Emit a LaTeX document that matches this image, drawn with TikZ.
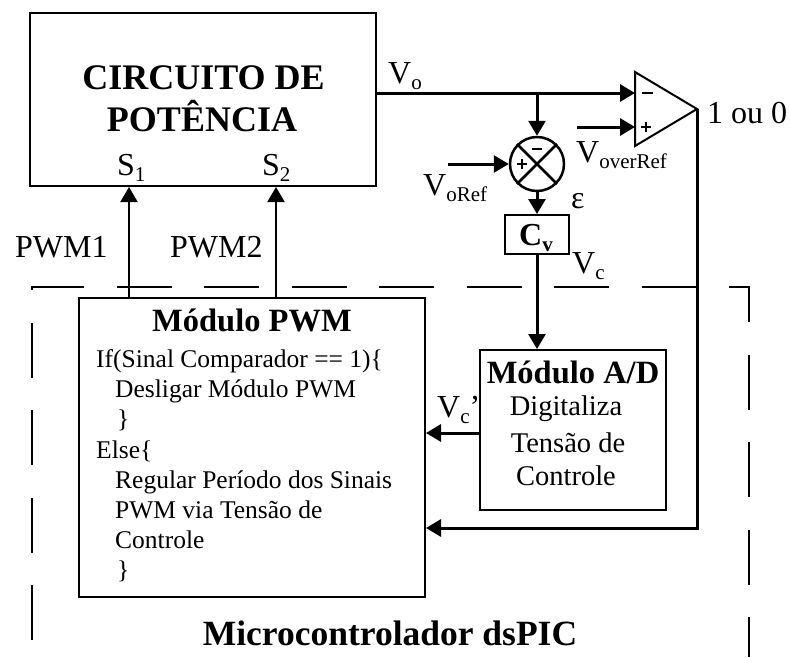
\documentclass[tikz,border=0pt]{standalone}
\usepackage{fontspec}
\setmainfont{Liberation Serif}
\usetikzlibrary{arrows.meta}
\newcommand\lsub[1]{\raisebox{-6pt}{\fontsize{21}{21}\selectfont #1}}
\begin{document}
\begin{tikzpicture}[x=1pt,y=-1pt,
 box/.style={draw, line width=2pt, inner sep=0pt},
 sig/.style={line width=3pt},
 thinsig/.style={line width=2pt},
 arr/.style={-{Triangle[width=17pt,length=15pt]}},
 lbl/.style={inner sep=0pt, anchor=base west, font=\fontsize{32}{38}\selectfont},
 code/.style={inner sep=0pt, anchor=base west, font=\fontsize{25.5}{30}\selectfont},
 adtxt/.style={inner sep=0pt, anchor=base, font=\fontsize{28.5}{34}\selectfont},
 ttl/.style={inner sep=0pt, anchor=base, font=\fontsize{32.5}{38}\selectfont\bfseries},
 sign/.style={line width=2.5pt},
 mcu/.style={line width=2pt, dash pattern=on 55pt off 32.5pt}]
\useasboundingbox (0,0) rectangle (790,657);
% microcontroller frame
\coordinate (mA) at (32,640);
\coordinate (mB) at (32,287);
\coordinate (mC) at (749,287);
\coordinate (mD) at (749,657);
\draw[mcu] (mA) -- (mB) -- (mC) -- (mD);
\node[inner sep=0pt, anchor=base, font=\fontsize{35.5}{40}\selectfont\bfseries] (mculbl) at (390,645) {Microcontrolador dsPIC};
% power circuit
\node[box, minimum width=346pt, minimum height=173pt] (pc) at (203,99.5) {};
\node[inner sep=0pt, anchor=base, font=\fontsize{36}{42}\selectfont\bfseries] (pct1) at (203.5,89) {CIRCUITO DE};
\node[inner sep=0pt, anchor=base, font=\fontsize{36}{42}\selectfont\bfseries] (pct2) at (202,131.5) {POTÊNCIA};
\node[lbl] (ls1) at (117,175) {S\lsub{1}};
\node[lbl] (ls2) at (262,175) {S\lsub{2}};
% PWM module
\node[box, minimum width=346pt, minimum height=299pt] (pwm) at (252,447.5) {};
\node[ttl] (pwmt) at (252,331) {Módulo PWM};
\node[code] (c1) at (96,367) {If(Sinal Comparador == 1)\{};
\node[code] (c2) at (115,397) {Desligar Módulo PWM};
\node[code] (c3) at (117,427) {\}};
\node[code] (c4) at (96,458) {Else\{};
\node[code] (c5) at (115,488) {Regular Período dos Sinais};
\node[code] (c6) at (115,518) {PWM via Tensão de};
\node[code] (c7) at (115,548) {Controle};
\node[code] (c8) at (117,578) {\}};
% PWM arrows
\coordinate (s1b) at (129,298);
\coordinate (s2b) at (276,298);
\draw[thinsig,arr] (s1b) -- (s1b |- pc.south);
\draw[thinsig,arr] (s2b) -- (s2b |- pc.south);
\node[lbl] (lpwm1) at (15,257) {PWM1};
\node[lbl] (lpwm2) at (170,257) {PWM2};
% A/D module
\node[box, minimum width=186pt, minimum height=160pt] (ad) at (573,430) {};
\node[ttl] (adt) at (573,383) {Módulo A/D};
\node[adtxt] (ad1) at (566,415) {Digitaliza};
\node[adtxt] (ad2) at (568,452) {Tensão de};
\node[adtxt] (ad3) at (566,485) {Controle};
% summing junction
\node[draw, circle, line width=2.5pt, minimum size=54pt, inner sep=0pt] (sum) at (537,164) {};
\draw[line width=2.5pt] (sum.north west) -- (sum.south east);
\draw[line width=2.5pt] (sum.north east) -- (sum.south west);
\draw[sign] ([xshift=-5pt,yshift=15pt]sum.center) -- ([xshift=5pt,yshift=15pt]sum.center);
\draw[sign] ([xshift=-20pt]sum.center) -- ([xshift=-10pt]sum.center);
\draw[sign] ([xshift=-15pt,yshift=-5pt]sum.center) -- ([xshift=-15pt,yshift=5pt]sum.center);
% controller box
\node[box, minimum width=64pt, minimum height=39pt] (cv) at (537,234.5) {};
\node[inner sep=0pt, anchor=base, font=\fontsize{32}{38}\selectfont\bfseries] (cvt) at (536,245) {C\lsub{v}};
% comparator
\coordinate (cmpTL) at (635,72);
\coordinate (cmpBL) at (635,146);
\coordinate (cmpO) at (697,109);
\coordinate (cmpM) at (635,93);
\coordinate (cmpP) at (635,127);
\draw[line width=2pt, line join=miter] (cmpTL) -- (cmpO) -- (cmpBL) -- cycle;
\draw[sign] (642,93) -- (653,93);
\draw[sign] (641,127) -- (651,127);
\draw[sign] (646,122) -- (646,132);
% signal lines
\coordinate (vo) at (376,93);
\coordinate (jn) at (537,93);
\coordinate (vref) at (448,164);
\coordinate (vov) at (577,127);
\coordinate (fb) at (697,528);
\coordinate (adout) at (480,433);
\draw[sig,arr] (vo) -- (cmpM);
\draw[sig,arr] (jn) -- (sum.north);
\draw[sig,arr] (vref) -- (sum.west);
\draw[sig,arr] (sum.south) -- (cv.north);
\draw[sig,arr] (cv.south) -- (cv.south |- ad.north);
\draw[sig,arr] (vov) -- (cmpP);
\draw[sig,arr] (cmpO) -- (fb) -- (fb -| pwm.east);
\draw[sig,arr] (adout) -- (adout -| pwm.east);
% labels
\node[lbl] (lvo) at (388,83) {V\lsub{o}};
\node[lbl] (lvoref) at (423,195) {V\lsub{oRef}};
\node[lbl] (lvover) at (576,162) {V\lsub{overRef}};
\node[lbl] (leps) at (571,208) {ε};
\node[lbl] (lvc) at (572,273) {V\lsub{c}};
\node[lbl] (lout) at (707,123) {1 ou 0};
\node[lbl] (lvcp) at (437,417) {V\lsub{c}’};
\end{tikzpicture}
\end{document}
